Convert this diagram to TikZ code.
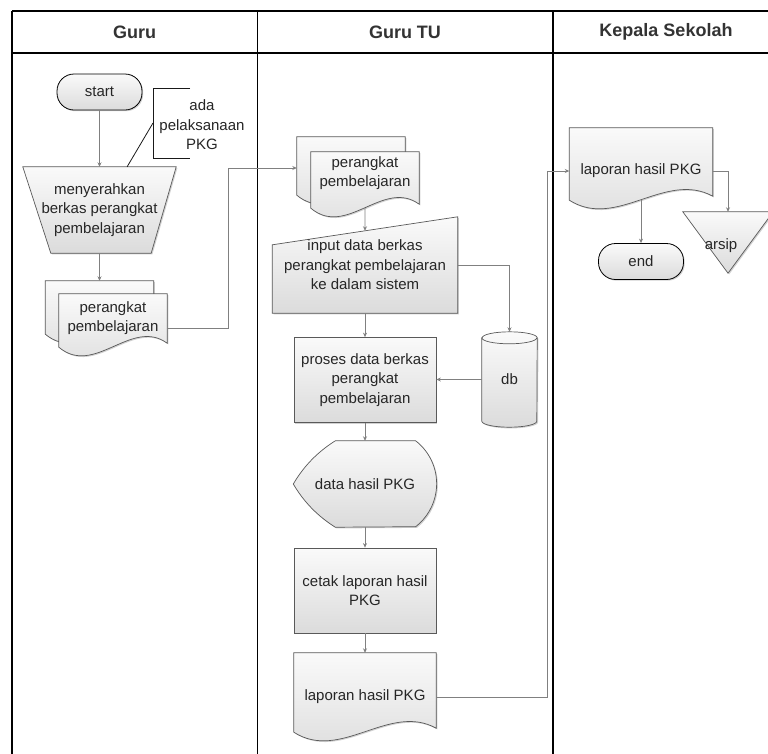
\documentclass[tikz,border=0pt]{standalone}
\usepackage{fontspec}
\setmainfont{Liberation Sans}
\usetikzlibrary{calc,arrows.meta,shadows}
\pgfdeclarelayer{background}
\pgfsetlayers{background,main}

\tikzset{
  lane/.style={line width=1.4pt, draw=black},
  hdr/.style={font=\fontsize{18}{20}\selectfont\bfseries, text=black!80, inner sep=0pt},
  txt/.style={font=\fontsize{15}{19.5}\selectfont, text=black!85, align=center, inner sep=0pt},
  frame/.style={txt, draw=none},
  shade/.style={top color=black!2, bottom color=black!14},
  shadowed/.style={drop shadow={shadow xshift=1.2pt, shadow yshift=-1.2pt, fill=black!40, opacity=.45}},
  outline/.style={draw=black!65, line width=0.7pt, shade, shadowed},
  term/.style={txt, draw=black, line width=0.8pt, rounded corners=17pt, shade, shadowed,
    minimum width=85pt, minimum height=36pt},
  procbox/.style={txt, draw=black!65, line width=0.7pt, shade, shadowed,
    minimum width=142pt, minimum height=85pt},
  conn/.style={draw=black!50, line width=0.9pt},
  arr/.style={conn, -{Stealth[length=4.5pt, width=4pt]}},
  note/.style={draw=black!90, line width=0.8pt},
}

% document outline: #1 node, #2 drop of the left corner below the node's south side
\newcommand\docshape[2]{%
  \draw[outline] (#1.north west) -- ($(#1.south west)+(0,#2)$)
    .. controls ($(#1.south west)!0.33!(#1.south east)+(0,#2+30)$)
    and ($(#1.south west)!0.67!(#1.south east)+(0,#2-30)$)
    .. ($(#1.south east)+(0,#2-4)$) -- (#1.north east) -- cycle;}

\begin{document}
\begin{tikzpicture}[x=1pt, y=-1pt]
\useasboundingbox (0,0) rectangle (768,753);

% ---------- swimlanes ----------
\draw[lane] (12,11) -- (790,11);
\draw[lane, line width=1.1pt] (12,53) -- (790,53);
\draw[lane] (12,11) -- (12,770);
\draw[lane] (257.5,11) -- (257.5,770);
\draw[lane] (553,11) -- (553,770);
\draw[lane] (779,11) -- (779,770);
\node[hdr] (h1) at (134.5,32) {Guru};
\node[hdr] (h2) at (405,32) {Guru TU};
\node[hdr] (h3) at (666,32) {Kepala Sekolah};

% ---------- lane: Guru ----------
\node[term] (start) at (99.5,92) {start};
\node[txt] (ann) at (202,125) {ada\\pelaksanaan\\PKG};
\coordinate (annb) at (153,123);
\draw[note] (190,88) -- (153,88) -- (153,158) -- (190,158);

\node[frame, minimum width=153pt, minimum height=86pt] (trap) at (99.5,210)
  {menyerahkan\\berkas perangkat\\pembelajaran};
\coordinate (annt) at ($(trap.north west)!0.68!(trap.north east)$);

\node[frame, minimum width=108pt, minimum height=53pt] (doc1b) at (99.5,307.5) {};
\node[frame, minimum width=108pt, minimum height=48pt] (doc1) at (113,318)
  {perangkat\\pembelajaran};

% ---------- lane: Guru TU ----------
\node[frame, minimum width=108pt, minimum height=62pt] (doc2b) at (351,168) {};
\node[frame, minimum width=108pt, minimum height=42pt] (doc2) at (365,173)
  {perangkat\\pembelajaran};
\node[frame, minimum width=185pt, minimum height=96pt] (manin) at (365,265)
  {input data berkas\\perangkat pembelajaran\\ke dalam sistem};
\node[frame, minimum width=55pt, minimum height=95pt] (db) at (509.5,379.5) {db};
\node[procbox] (proc) at (365,380) {proses data berkas\\perangkat\\pembelajaran};
\node[frame, minimum width=143pt, minimum height=86pt] (disp) at (365,484) {data hasil PKG};
\node[procbox] (cetak) at (365,590.5) {cetak laporan hasil\\PKG};
\node[frame, minimum width=142pt, minimum height=88pt] (lapTU) at (365,697) {laporan hasil PKG};

% ---------- lane: Kepala Sekolah ----------
\node[frame, minimum width=143pt, minimum height=86pt] (kep) at (641,171) {laporan hasil PKG};
\node[term] (stop) at (641,261.5) {end};
\node[frame, minimum width=90pt, minimum height=61pt] (arsip) at (728,242.5) {};
\node[txt] (arsiplabel) at (721,246) {arsip};

% ---------- shape outlines behind the texts ----------
\begin{pgfonlayer}{background}
  \fill[white] (0,0) rectangle (768,753);
  % manual operation
  \draw[outline] (trap.north west) -- (trap.north east)
    -- ($(trap.south east)+(-25,0)$) -- ($(trap.south west)+(28,0)$) -- cycle;
  % stacked documents
  \docshape{doc1b}{0}
  \docshape{doc1}{5}
  \docshape{doc2b}{-4}
  \docshape{doc2}{14}
  % manual input
  \draw[outline] (manin.south west) -- ($(manin.north west)+(0,28)$)
    -- (manin.north east) -- (manin.south east) -- cycle;
  % database cylinder
  \draw[outline] ($(db.north west)+(0,6)$) -- ($(db.south west)+(0,-6)$)
    arc[start angle=180, end angle=360, x radius=27.5pt, y radius=6pt]
    -- ($(db.north east)+(0,6)$)
    arc[start angle=0, end angle=180, x radius=27.5pt, y radius=6pt] -- cycle;
  \draw[draw=black!65, line width=0.7pt] ($(db.north west)+(0,6)$)
    arc[start angle=180, end angle=360, x radius=27.5pt, y radius=6pt];
  % display
  \draw[outline] ($(disp.north west)+(42,0)$) -- ($(disp.north east)+(-21,0)$)
    arc[start angle=52, end angle=-52, radius=54.5pt]
    -- ($(disp.south west)+(42,0)$)
    .. controls ($(disp.south west)+(24.5,-11)$) and ($(disp.west)+(10.5,18)$) .. (disp.west)
    .. controls ($(disp.west)+(10.5,-18)$) and ($(disp.north west)+(24.5,11)$) .. cycle;
  % report documents
  \docshape{lapTU}{-9}
  \docshape{kep}{-14}
  % merge / archive
  \draw[outline] (arsip.north west) -- (arsip.north east) -- (arsip.south) -- cycle;
\end{pgfonlayer}

% ---------- connectors ----------
\coordinate (r1) at (228,0);
\coordinate (r2) at (547,0);
\draw[arr] (start.south) -- (trap.north);
\draw[note] (annb) -- (annt);
\draw[arr] (trap.south) -- (doc1b.north);
\draw[arr] ([yshift=-10pt]doc1.east) -| (r1 |- doc2b.west) -- (doc2b.west);
\draw[arr] ([yshift=-14pt]doc2.south) -- ($(manin.north west)!0.5!(manin.north east)+(0,14)$);
\draw[arr] (manin.south) -- (proc.north);
\draw[arr] (manin.east) -| (db.north);
\draw[arr] (db.west) -- (db.west -| proc.east);
\draw[arr] (proc.south) -- (disp.north);
\draw[arr] (disp.south) -- (cetak.north);
\draw[arr] (cetak.south) -- (lapTU.north);
\draw[arr] (lapTU.east) -| (r2 |- kep.west) -- (kep.west);
\draw[arr] ([yshift=14pt]kep.south) -- (stop.north);
\draw[arr] (kep.east) -| (arsip.north);
\end{tikzpicture}
\end{document}
